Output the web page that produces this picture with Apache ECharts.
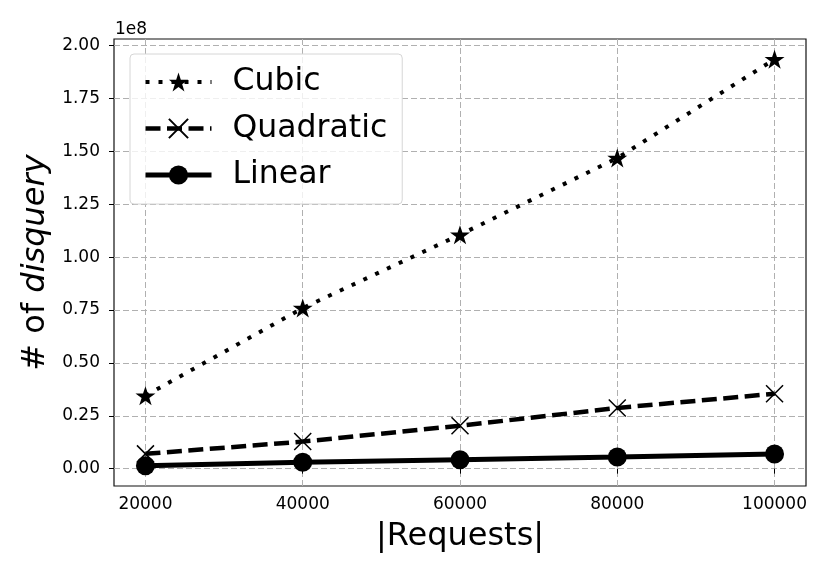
<!DOCTYPE html>
<html>
<head>
<meta charset="utf-8">
<script src="https://cdn.jsdelivr.net/npm/echarts@6/dist/echarts.min.js"></script>
<style>html,body{margin:0;padding:0;background:#fff;}#c{width:830px;height:575px;}</style>
</head>
<body>
<div id="c"></div>
<script>
const requests = [20000, 40000, 60000, 80000, 100000];
const cubic = [34500000, 75900000, 110600000, 146800000, 193500000];
const quadratic = [7000000, 12800000, 20300000, 28700000, 35400000];
const linear = [1400000, 3000000, 4250000, 5500000, 6900000];
const xTicks = [20000, 40000, 60000, 80000, 100000];
const yTicks = [0, 25000000, 50000000, 75000000, 100000000, 125000000, 150000000, 175000000, 200000000];

const FONT = 'DejaVu Sans';
const STAR = 'path://M50,0 L61.8,35.1 L98.9,35.1 L68.8,56.8 L80.2,91.9 L50,70.2 L19.8,91.9 L31.2,56.8 L1.1,35.1 L38.2,35.1 Z';
const XMARK = 'path://M0,0L10,10M0,10L10,0';
const DOT = [4, 9], DASH = [15, 6.5];

function pairs(ys){ return requests.map((x,i)=>[x, ys[i]]); }

const chart = echarts.init(document.getElementById('c'), null, {renderer:'canvas'});
chart.setOption({
  animation: false,
  backgroundColor: '#fff',
  textStyle: {fontFamily: FONT},
  grid: {left: 114, right: 24, top: 39, bottom: 89, show: true, borderColor: '#111', borderWidth: 1.2, backgroundColor: 'transparent'},
  xAxis: {
    type: 'value', min: 16000, max: 104000,
    name: '|Requests|', nameLocation: 'middle', nameGap: 35,
    nameTextStyle: {fontFamily: FONT, fontSize: 32, color: '#000'},
    axisLine: {show: false},
    axisTick: {show: true, length: 5, lineStyle: {color: '#000', width: 1}, customValues: xTicks},
    axisLabel: {fontFamily: FONT, fontSize: 17, color: '#000', margin: 10, customValues: xTicks, formatter: v => String(v)},
    splitLine: {show: true, lineStyle: {color: '#b0b0b0', width: 1, type: [6, 3]}}
  },
  yAxis: {
    type: 'value', min: -8200000, max: 203100000,
    name: '{a|# of }{b|disquery}', nameLocation: 'middle', nameGap: 62,
    nameTextStyle: {fontFamily: FONT, fontSize: 32, color: '#000',
      rich: {a: {fontFamily: FONT, fontSize: 32, color: '#000'}, b: {fontFamily: FONT, fontSize: 32, fontStyle: 'italic', color: '#000'}}},
    axisLine: {show: false},
    axisTick: {show: true, length: 5, lineStyle: {color: '#000', width: 1}, customValues: yTicks},
    axisLabel: {fontFamily: FONT, fontSize: 17, color: '#000', margin: 14, customValues: yTicks, formatter: v => (v/1e8).toFixed(2)},
    splitLine: {show: true, lineStyle: {color: '#b0b0b0', width: 1, type: [6, 3]}}
  },
  legend: {
    orient: 'vertical', left: 130, top: 54,
    padding: [10, 15, 11, 13], itemGap: 10.5,
    itemWidth: 66, itemHeight: 24,
    backgroundColor: 'rgba(255,255,255,0.8)', borderColor: '#d6d6d6', borderWidth: 1, borderRadius: 4,
    textStyle: {fontFamily: FONT, fontSize: 31.5, color: '#000', lineHeight: 36, padding: [0, 0, 0, 16]},
    data: [
      {name: 'Cubic', lineStyle: {width: 4, type: DOT, color: '#000'}},
      {name: 'Quadratic', lineStyle: {width: 4.5, type: DASH, color: '#000'}},
      {name: 'Linear', lineStyle: {width: 5, color: '#000'}}
    ]
  },
  graphic: [{type: 'text', left: 115, top: 21, style: {text: '1e8', font: '17px "DejaVu Sans"', fill: '#000'}}],
  series: [
    {name: 'Cubic', type: 'line', data: pairs(cubic), symbol: STAR, symbolSize: [20, 19],
      lineStyle: {color: '#000', width: 4, type: DOT}, itemStyle: {color: '#000'}, z: 3},
    {name: 'Quadratic', type: 'line', data: pairs(quadratic), symbol: XMARK, symbolSize: 17,
      lineStyle: {color: '#000', width: 4.5, type: DASH}, itemStyle: {color: 'none', borderColor: '#000', borderWidth: 1.5}, z: 3},
    {name: 'Linear', type: 'line', data: pairs(linear), symbol: 'circle', symbolSize: 19,
      lineStyle: {color: '#000', width: 5}, itemStyle: {color: '#000'}, z: 3}
  ]
});
</script>
</body>
</html>
